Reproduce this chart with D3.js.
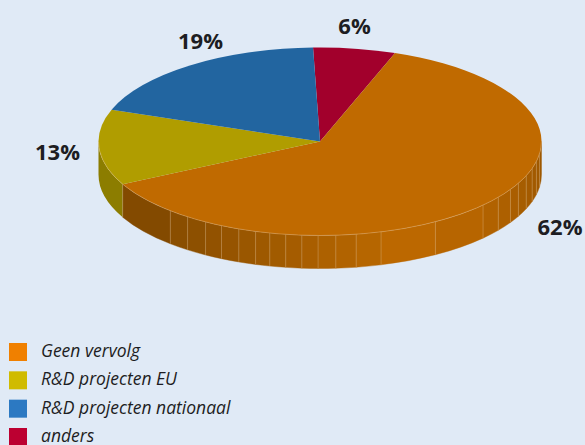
<!DOCTYPE html>
<html>
<head>
<meta charset="utf-8">
<style>
  html, body { margin: 0; padding: 0; background: #e0eaf6; overflow: hidden; }
  svg { display: block; }
  text { fill: #1d1d22; font-family: "Open Sans", "Noto Sans", sans-serif; }
</style>
<script src="https://cdn.jsdelivr.net/npm/d3@7"></script>
</head>
<body>
<svg id="chart" width="585" height="445"></svg>
<script>
// Survey shares, in drawing order clockwise from the top of the disc
const categories = ["anders", "Geen vervolg", "R&D projecten EU", "R&D projecten nationaal"];
const shares = [6, 62, 13, 19];
const valueLabels = ["6%", "62%", "13%", "19%"];
const topColors = ["#a2002c", "#c06a00", "#b09d00", "#2265a0"];
const legendColors = ["#bc0031", "#f08000", "#d0bb00", "#2c79c2"];
const legendOrder = ["Geen vervolg", "R&D projecten EU", "R&D projecten nationaal", "anders"];

// Angles (degrees clockwise from top) where the rim's shaded bands change
const facetAngles = [90, 97.7, 102.3, 106.7, 111.4, 116.4, 120.7, 126.4, 132.6, 148.6, 164,
  170.6, 175.9, 180.5, 184.7, 188.9, 193.1, 196.9, 201.5, 206.4, 211.1, 216.7, 222.5];
const facetShadeStops = [90, 112, 135, 160, 190, 215, 242];
const facetShadeColors = ["#9c5700", "#a55c00", "#b56400", "#bd6900", "#a25b00", "#8c4f00", "#7f4800"];

const W = 585, H = 445;
const cx = 320, cy = 141.5, rx = 221.5, ry = 94, depth = 33;
const svg = d3.select("#chart");
const rad = Math.PI / 180;

const slices = d3.pie().value(d => d).sort(null)
  .startAngle(-1.8 * rad).endAngle(358.2 * rad)(shares);

const px = a => cx + rx * Math.sin(a);
const py = a => cy - ry * Math.cos(a);

// Closed outline of the rim between two angles, following the ellipse
function wallPath(a0, a1) {
  return `M${px(a0)},${py(a0)}A${rx},${ry} 0 0 0 ${px(a1)},${py(a1)}` +
         `L${px(a1)},${py(a1) + depth}A${rx},${ry} 0 0 1 ${px(a0)},${py(a0) + depth}Z`;
}

const shade = d3.scaleLinear().domain(facetShadeStops).range(facetShadeColors);
const wall = svg.append("g");

// Yellow slice: the visible part of its rim runs from the orange edge to the left extreme
const yellow = slices[2];
const orangeEnd = yellow.startAngle / rad;
wall.append("path")
  .attr("d", wallPath(270 * rad, yellow.startAngle))
  .attr("fill", "#8c7d00");

// Orange slice: one band between each pair of angles, closing at the slice's own end
const bands = d3.pairs([...facetAngles, orangeEnd]);
wall.selectAll("path.band").data(bands).join("path")
  .attr("class", "band")
  .attr("d", d => wallPath(d[1] * rad, d[0] * rad))
  .attr("fill", d => shade((d[0] + d[1]) / 2))
  .attr("stroke", d => shade((d[0] + d[1]) / 2))
  .attr("stroke-width", 0.4);

// Thin highlights at band edges
wall.selectAll("line.edge").data(facetAngles.slice(1)).join("line")
  .attr("class", "edge")
  .attr("x1", d => px(d * rad)).attr("x2", d => px(d * rad))
  .attr("y1", d => py(d * rad)).attr("y2", d => py(d * rad) + depth)
  .attr("stroke", "#e8c08c").attr("stroke-opacity", 0.42).attr("stroke-width", 0.8);

wall.append("line")
  .attr("x1", px(yellow.startAngle)).attr("x2", px(yellow.startAngle))
  .attr("y1", py(yellow.startAngle)).attr("y2", py(yellow.startAngle) + depth)
  .attr("stroke", "#d9cf8a").attr("stroke-opacity", 0.5).attr("stroke-width", 0.8);

// Flat top of the disc: a circular pie squashed vertically
const arc = d3.arc().innerRadius(0).outerRadius(rx);
svg.append("g")
  .attr("transform", `translate(${cx},${cy}) scale(1,${ry / rx})`)
  .selectAll("path").data(slices).join("path")
  .attr("d", arc)
  .attr("fill", (d, i) => topColors[i]);

// Pale rim line along the front of the top face
svg.append("path")
  .attr("d", `M${px(90 * rad)},${py(90 * rad)}A${rx},${ry} 0 0 1 ${px(270 * rad)},${py(270 * rad)}`)
  .attr("fill", "none").attr("stroke", "#eec89a").attr("stroke-opacity", 0.5).attr("stroke-width", 0.7);

// Percentage labels
const labelAnchors = [[354.5, 26], [560, 227], [57.5, 152], [200.5, 41]];
svg.selectAll("text.value").data(valueLabels).join("text")
  .attr("class", "value")
  .attr("x", (d, i) => labelAnchors[i][0])
  .attr("y", (d, i) => labelAnchors[i][1])
  .attr("dy", "0.36em")
  .attr("text-anchor", "middle")
  .style("font-size", "22px").style("font-weight", 700)
  .text(d => d);

// Legend
const legendY = d3.scalePoint().domain(legendOrder).range([352, 437]);
const legendColor = d3.scaleOrdinal().domain(categories).range(legendColors);
const legend = svg.append("g").selectAll("g").data(legendOrder).join("g")
  .attr("transform", d => `translate(0,${legendY(d)})`);
legend.append("rect")
  .attr("x", 9).attr("y", -9).attr("width", 18).attr("height", 18)
  .attr("fill", d => legendColor(d));
legend.append("text")
  .attr("x", 41).attr("y", 5)
  .style("font-size", "17.5px").style("font-style", "italic")
  .text(d => d);
</script>
</body>
</html>
